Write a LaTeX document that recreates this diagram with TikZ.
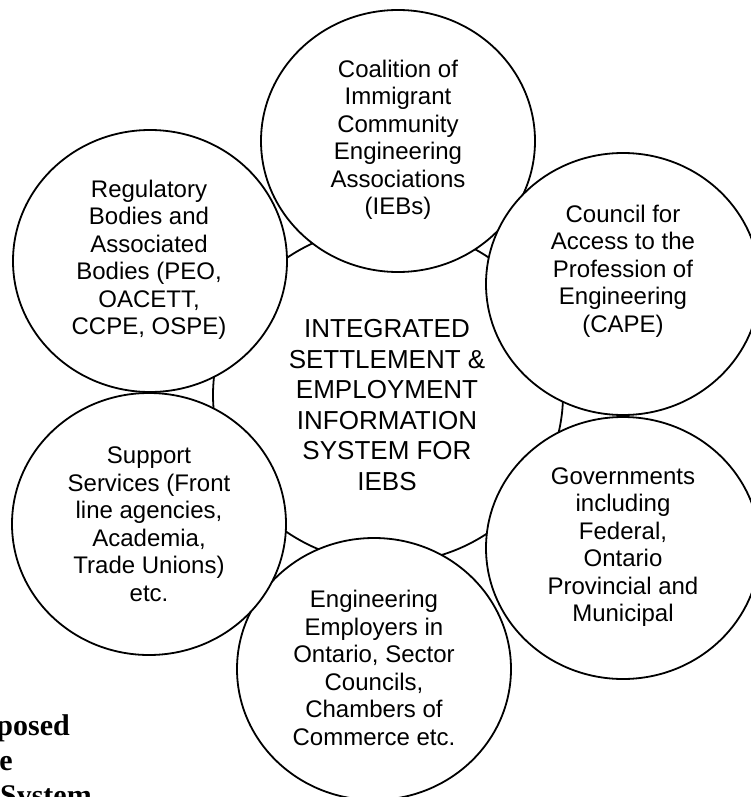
\documentclass[tikz,border=0pt]{standalone}
\usepackage{fontspec}
\setmainfont{Liberation Sans}
\newfontfamily\capfont{Liberation Serif}
\usetikzlibrary{shapes.geometric}

\begin{document}
\begin{tikzpicture}[x=1pt,y=-1pt,
  bubble/.style={draw=black, line width=1.8pt, fill=white, ellipse, inner sep=0pt,
                 minimum width=274pt, minimum height=262pt},
  hub/.style={draw=black, line width=1.8pt, fill=white, ellipse, inner sep=0pt,
              minimum width=350pt, minimum height=336pt},
  txt/.style={align=center, inner sep=0pt, font=\fontsize{24}{27.5}\selectfont},
  hubtxt/.style={align=center, inner sep=0pt, font=\fontsize{26}{30.5}\selectfont},
  captxt/.style={anchor=base east, inner sep=0pt,
                 font=\capfont\bfseries\fontsize{30}{35}\selectfont}]
\clip (0,0) rectangle (751,797);

% central hub
\node[hub] (hub) at (388,395) {};
\node[hubtxt] (hub-t) at (387,405) {INTEGRATED\\SETTLEMENT \&\\EMPLOYMENT\\INFORMATION\\SYSTEM FOR\\IEBS};

% partner bubbles, drawn clockwise from the top
\node[bubble] (ieb) at (398,141) {};
\node[txt] (ieb-t) at (398,140) {Coalition of\\Immigrant\\Community\\Engineering\\Associations\\(IEBs)};

\node[bubble] (cape) at (623,284) {};
\node[txt] (cape-t) at (623,271) {Council for\\Access to the\\Profession of\\Engineering\\(CAPE)};

\node[bubble] (gov) at (623,548) {};
\node[txt] (gov-t) at (623,547) {Governments\\including\\Federal,\\Ontario\\Provincial and\\Municipal};

\node[bubble] (emp) at (374,669) {};
\node[txt] (emp-t) at (374,668) {Engineering\\Employers in\\Ontario, Sector\\Councils,\\Chambers of\\Commerce etc.};

\node[bubble] (sup) at (149,524) {};
\node[txt] (sup-t) at (149,524) {Support\\Services (Front\\line agencies,\\Academia,\\Trade Unions)\\etc.};

\node[bubble] (reg) at (150,261) {};
\node[txt] (reg-t) at (149,260) {Regulatory\\Bodies and\\Associated\\Bodies (PEO,\\OACETT,\\CCPE, OSPE)};

% caption fragments at the lower left
\node[captxt] (cap1) at (70,735) {posed};
\node[captxt] (cap2) at (13,770) {e};
\node[captxt] (cap3) at (92,805) {System};
\end{tikzpicture}
\end{document}
